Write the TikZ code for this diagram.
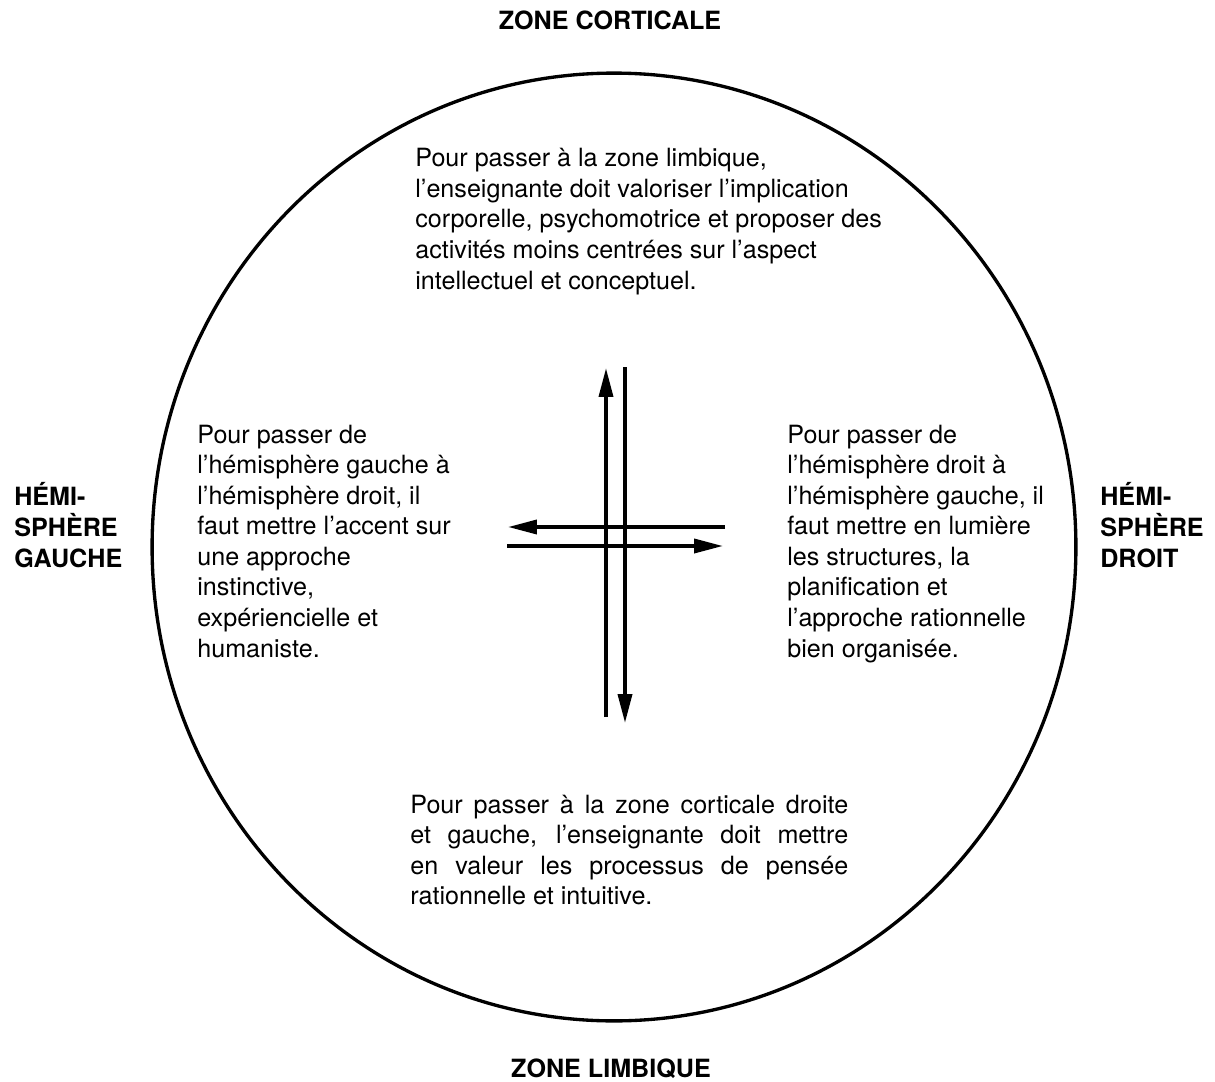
\documentclass[tikz,border=0pt]{standalone}
\usepackage{fontspec}
\setmainfont{TeX Gyre Heros}
\usepackage{xcolor}
\usepackage{tikz}
\usetikzlibrary{arrows.meta,positioning,calc,shapes.geometric}
\definecolor{ink}{RGB}{0,0,0}
\tikzset{
  bodytext/.style={inner sep=0pt, align=left, text=ink,
    font=\fontsize{14.3}{17.4}\selectfont},
  sidelabel/.style={inner sep=0pt, align=left, text=ink,
    font=\fontsize{14.3}{17.4}\selectfont\bfseries},
  zonelabel/.style={inner sep=0pt, text=ink,
    font=\fontsize{14.3}{17.4}\selectfont\bfseries},
  brain/.style={draw=ink, ellipse, line width=1.9pt, inner sep=0pt,
    minimum width=18.48cm, minimum height=18.96cm},
  flow/.style={-{Triangle[length=5.8mm, width=2.8mm]}, line width=2.1pt, draw=ink}
}
\newcommand{\fullline}[1]{\makebox[8.76cm][s]{#1}}

\begin{document}
\begin{tikzpicture}[x=0.02cm, y=-0.02cm]
\useasboundingbox (0,0) rectangle (1215,1082);

\node[brain] (cortex) at (614,547) {};

% base = baseline of the last line
\node[zonelabel, anchor=base] (top) at (610,29) {ZONE CORTICALE};
\node[zonelabel, anchor=base] (bottom) at (611,1077) {ZONE LIMBIQUE};
\node[sidelabel, anchor=base west] (lefthemi) at (14,567)
{HÉMI-\\SPHÈRE\\GAUCHE};
\node[sidelabel, anchor=base west] (righthemi) at (1100,567)
{HÉMI-\\SPHÈRE\\DROIT};

\node[bodytext, anchor=base west] (tolimbic) at (415,289)
{Pour passer à la zone limbique,\\
l'enseignante doit valoriser l'implication\\
corporelle, psychomotrice et proposer des\\
activités moins centrées sur l'aspect\\
intellectuel et conceptuel.};

\node[bodytext, anchor=base west] (toright) at (197,657)
{Pour passer de\\
l'hémisphère gauche à\\
l'hémisphère droit, il\\
faut mettre l'accent sur\\
une approche\\
instinctive,\\
expériencielle et\\
humaniste.};

\node[bodytext, anchor=base west] (toleft) at (787,657)
{Pour passer de\\
l'hémisphère droit à\\
l'hémisphère gauche, il\\
faut mettre en lumière\\
les structures, la\\
planification et\\
l'approche rationnelle\\
bien organisée.};

% justified block: base is the first line here
\node[bodytext, align=justify, anchor=base west, text width=8.76cm] (tocortex) at (410,813)
{\fullline{Pour passer à la zone corticale droite}\\
\fullline{et gauche, l'enseignante doit mettre}\\
\fullline{en valeur les processus de pensée}\\
rationnelle et intuitive.};

% crossing arrows in the middle
\coordinate (upS) at (606,717);
\coordinate (upE) at (606,368);
\coordinate (dnS) at (625,367);
\coordinate (dnE) at (625,723);
\coordinate (lfS) at (725,527);
\coordinate (lfE) at (508,527);
\coordinate (rtS) at (507,546);
\coordinate (rtE) at (723,546);

\draw[flow] (upS)--(upE);
\draw[flow] (dnS)--(dnE);
\draw[flow] (lfS)--(lfE);
\draw[flow] (rtS)--(rtE);
\end{tikzpicture}
\end{document}
